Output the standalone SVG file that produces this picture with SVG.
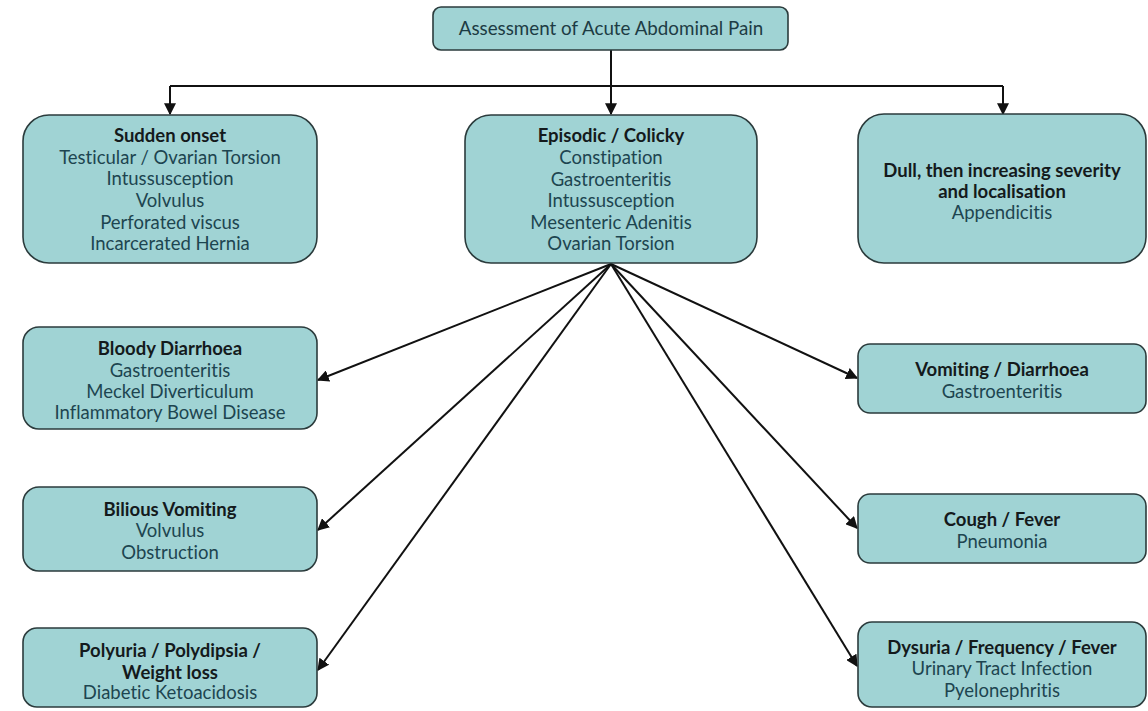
<svg xmlns="http://www.w3.org/2000/svg" width="1148" height="711" viewBox="0 0 1148 711">
  <style>
    .box { fill: #a0d3d4; stroke: #2b3b3c; stroke-width: 1.6; }
    .t { font-family: Lato, "Open Sans", sans-serif; font-size: 18.5px; text-anchor: middle; fill: #1d4550; font-variant-ligatures: none; }
    .h { font-weight: bold; fill: #141a1c; }
    .top { font-size: 18.8px; fill: #1d3c44; }
    .conn { stroke: #111; stroke-width: 2; fill: none; marker-end: url(#arr); }
  </style>
  <defs>
    <marker id="arr" viewBox="0 0 10 10" refX="9" refY="5" markerWidth="6" markerHeight="6" orient="auto" markerUnits="strokeWidth">
      <path d="M0,0 L10,5 L0,10 z" fill="#111"/>
    </marker>
  </defs>
  <rect width="1148" height="711" fill="#ffffff"/>

  <g id="connectors">
    <path d="M611,50 V86" stroke="#111" stroke-width="2" fill="none"/>
    <path d="M170,86 H1003" stroke="#111" stroke-width="2" fill="none"/>
    <path class="conn" d="M170,86 V114"/>
    <path class="conn" d="M611,86 V114"/>
    <path class="conn" d="M1003,86 V114"/>
    <path class="conn" d="M611,264 L318,380"/>
    <path class="conn" d="M611,264 L318,530"/>
    <path class="conn" d="M611,264 L318,670"/>
    <path class="conn" d="M611,264 L857,378"/>
    <path class="conn" d="M611,264 L857,528"/>
    <path class="conn" d="M611,264 L857,666"/>
  </g>

  <g id="root">
    <rect class="box" x="433" y="7" width="355" height="43" rx="8"/>
    <text class="t top" x="611" y="35">Assessment of Acute Abdominal Pain</text>
  </g>

  <g id="sudden-onset">
    <rect class="box" x="23" y="115" width="294" height="148" rx="26"/>
    <text class="t h" x="170" y="142">Sudden onset</text>
    <text class="t" x="170" y="164">Testicular / Ovarian Torsion</text>
    <text class="t" x="170" y="185">Intussusception</text>
    <text class="t" x="170" y="207">Volvulus</text>
    <text class="t" x="170" y="229">Perforated viscus</text>
    <text class="t" x="170" y="250">Incarcerated Hernia</text>
  </g>

  <g id="episodic">
    <rect class="box" x="465" y="115" width="292" height="148" rx="26"/>
    <text class="t h" x="611" y="142">Episodic / Colicky</text>
    <text class="t" x="611" y="164">Constipation</text>
    <text class="t" x="611" y="186">Gastroenteritis</text>
    <text class="t" x="611" y="207">Intussusception</text>
    <text class="t" x="611" y="229">Mesenteric Adenitis</text>
    <text class="t" x="611" y="250">Ovarian Torsion</text>
  </g>

  <g id="dull">
    <rect class="box" x="858" y="114" width="288" height="149" rx="26"/>
    <text class="t h" x="1002" y="177">Dull, then increasing severity</text>
    <text class="t h" x="1002" y="198">and localisation</text>
    <text class="t" x="1002" y="219">Appendicitis</text>
  </g>

  <g id="bloody-diarrhoea">
    <rect class="box" x="23" y="327" width="294" height="102" rx="16"/>
    <text class="t h" x="170" y="355">Bloody Diarrhoea</text>
    <text class="t" x="170" y="377">Gastroenteritis</text>
    <text class="t" x="170" y="398">Meckel Diverticulum</text>
    <text class="t" x="170" y="419">Inflammatory Bowel Disease</text>
  </g>

  <g id="bilious-vomiting">
    <rect class="box" x="23" y="487" width="294" height="84" rx="16"/>
    <text class="t h" x="170" y="516">Bilious Vomiting</text>
    <text class="t" x="170" y="537">Volvulus</text>
    <text class="t" x="170" y="559">Obstruction</text>
  </g>

  <g id="polyuria">
    <rect class="box" x="23" y="628" width="294" height="79" rx="14"/>
    <text class="t h" x="170" y="657">Polyuria / Polydipsia /</text>
    <text class="t h" x="170" y="679">Weight loss</text>
    <text class="t" x="170" y="699">Diabetic Ketoacidosis</text>
  </g>

  <g id="vomiting-diarrhoea">
    <rect class="box" x="858" y="344" width="288" height="69" rx="12"/>
    <text class="t h" x="1002" y="376">Vomiting / Diarrhoea</text>
    <text class="t" x="1002" y="398">Gastroenteritis</text>
  </g>

  <g id="cough-fever">
    <rect class="box" x="858" y="494" width="288" height="69" rx="12"/>
    <text class="t h" x="1002" y="526">Cough / Fever</text>
    <text class="t" x="1002" y="548">Pneumonia</text>
  </g>

  <g id="dysuria">
    <rect class="box" x="858" y="622" width="288" height="85" rx="14"/>
    <text class="t h" x="1002" y="654">Dysuria / Frequency / Fever</text>
    <text class="t" x="1002" y="675">Urinary Tract Infection</text>
    <text class="t" x="1002" y="697">Pyelonephritis</text>
  </g>
</svg>
